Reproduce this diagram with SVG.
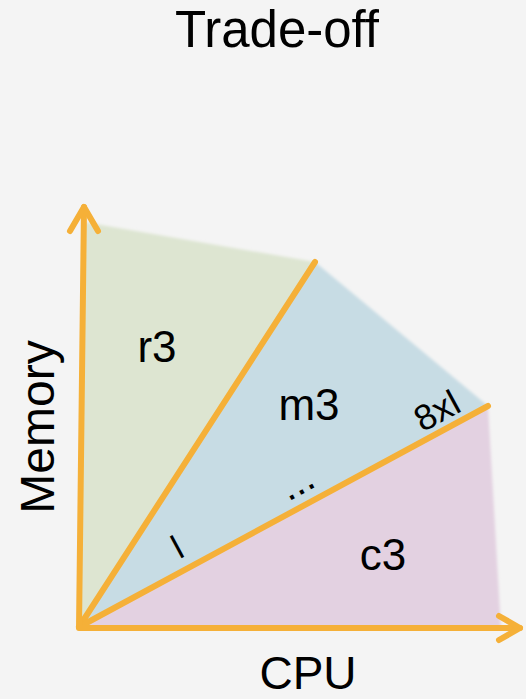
<svg xmlns="http://www.w3.org/2000/svg" width="526" height="699" viewBox="0 0 526 699">
<defs>
<filter id="soft" x="-5%" y="-5%" width="110%" height="110%"><feGaussianBlur stdDeviation="1.5"/></filter>
<style>
text{font-family:"Liberation Sans",Arial,sans-serif;fill:#000}
.ax{stroke:#f5b038;stroke-width:6;fill:none;stroke-linecap:round;stroke-linejoin:round}
.div{stroke:#f5b038;stroke-width:6;fill:none;stroke-linecap:round}
</style>
</defs>
<rect width="526" height="699" fill="#f4f4f4"/>
<g id="title"><text x="277" y="47" font-size="51" text-anchor="middle">Trade-off</text></g>
<g id="r3">
<polygon points="84,222 315,262 79,628" fill="#dde5d1" filter="url(#soft)"/>
<text x="157" y="362" font-size="44" text-anchor="middle">r3</text>
</g>
<g id="m3">
<polygon points="315,262 488,406 79,628" fill="#c7dce4" filter="url(#soft)"/>
<text x="309" y="420" font-size="44" text-anchor="middle">m3</text>
<text transform="translate(437,411) rotate(-28.4)" y="12" font-size="36" text-anchor="middle">8xl</text>
<text transform="translate(302,492) rotate(-28.4)" y="2" font-size="40" text-anchor="middle">...</text>
<text transform="translate(177,547) rotate(-28.4)" y="12" font-size="34" text-anchor="middle">l</text>
</g>
<g id="c3">
<polygon points="79,628 488,406 500,612 501,628" fill="#e3d1e1" filter="url(#soft)"/>
<text x="383" y="570" font-size="44" text-anchor="middle">c3</text>
</g>
<g id="connectors">
<line class="div" x1="79" y1="627" x2="315" y2="262"/>
<line class="div" x1="79" y1="627" x2="488" y2="406"/>
<polyline class="ax" points="84,207 79,628 520,628"/>
<polyline class="ax" points="70,231 84,207 98,231"/>
<polyline class="ax" points="499,616 520,628 499,640"/>
</g>
<g id="axis-labels">
<text x="308" y="689" font-size="46" text-anchor="middle">CPU</text>
<text transform="translate(54,427) rotate(-90)" font-size="48" text-anchor="middle">Memory</text>
</g>
</svg>
